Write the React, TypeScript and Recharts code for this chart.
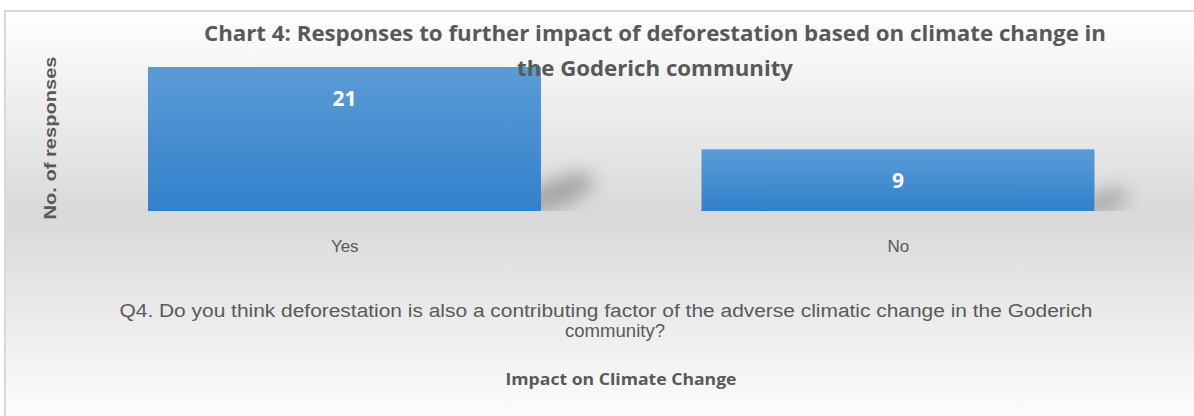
import { BarChart, Bar, XAxis, YAxis, LabelList } from "recharts";

const categories = ["Yes", "No"];
const responses = [21, 9];
const titleLines = [
  "Chart 4:  Responses to further impact of deforestation based on climate change in",
  "the Goderich community",
];
const questionLines = [
  "Q4. Do you think deforestation is also a contributing factor of the adverse climatic change in the  Goderich",
  "community?",
];
const xTitle = "Impact on Climate Change";
const yTitle = "No. of responses";

const data = categories.map((c, i) => ({ name: c, value: responses[i] }));

const GRAY = "#595959";

// bar with a soft cast shadow to its lower right
function ShadowBar(props: any) {
  const { x, y, width, height } = props;
  const bx = x + width;
  const by = y + height;
  const s = Math.min(1, height / 120);
  const id = `clip-${Math.round(x)}`;
  const cx = bx + 12 * s + 4;
  const cy = by - 18 * s;
  return (
    <g>
      <defs>
        <clipPath id={id}>
          <rect x={bx} y={by - 90} width={120} height={90} />
        </clipPath>
      </defs>
      <g clipPath={`url(#${id})`}>
        <ellipse
          cx={cx}
          cy={cy}
          rx={32 * s + 8}
          ry={9 * s + 5}
          transform={`rotate(-22 ${cx} ${cy})`}
          fill="#808080"
          opacity={0.6}
          filter="url(#shadowBlur)"
        />
      </g>
      <rect x={x} y={y} width={width} height={height} fill="url(#barGrad)" />
    </g>
  );
}

function ValueLabel(props: any) {
  const { x, y, width, value } = props;
  return (
    <text
      x={x + width / 2}
      y={y + 31}
      textAnchor="middle"
      dominantBaseline="central"
      fill="#ffffff"
      fontFamily="'Open Sans', sans-serif"
      fontWeight={700}
      fontSize={21}
    >
      {value}
    </text>
  );
}

function CatTick(props: any) {
  const { x, y, payload } = props;
  return (
    <text
      x={x}
      y={y + 27}
      textAnchor="middle"
      dominantBaseline="central"
      fill={GRAY}
      fontFamily="'Liberation Sans', Arial, sans-serif"
      fontSize={17}
    >
      {payload.value}
    </text>
  );
}

export default function App() {
  return (
    <div style={{ position: "absolute", left: 0, top: 0, width: 1194, height: 416, overflow: "hidden", background: "#fff" }}>
      <div
        style={{
          position: "absolute",
          left: 4,
          top: 10,
          width: 1200,
          height: 420,
          border: "2px solid #d9d9d9",
          background: "linear-gradient(to bottom, #ffffff 0%, #d9d9d9 48%, #ffffff 100%)",
        }}
      />
      <div style={{ position: "absolute", left: 0, top: 0 }}>
        <BarChart width={1194} height={416} data={data} margin={{ top: 67, right: 19, bottom: 175, left: 68 }}>
          <defs>
            <linearGradient id="barGrad" x1="0" y1="0" x2="0" y2="1">
              <stop offset="0%" stopColor="#5b9bd6" />
              <stop offset="100%" stopColor="#3281cb" />
            </linearGradient>
            <filter id="shadowBlur" x="-100%" y="-100%" width="300%" height="300%">
              <feGaussianBlur stdDeviation="9" />
            </filter>
          </defs>
          <XAxis dataKey="name" height={30} axisLine={false} tickLine={false} tick={<CatTick />} interval={0} />
          <YAxis hide domain={[0, 21]} />
          <Bar dataKey="value" barSize={393} shape={<ShadowBar />} isAnimationActive={false}>
            <LabelList dataKey="value" content={<ValueLabel />} />
          </Bar>
        </BarChart>
      </div>
      <svg width={1194} height={416} style={{ position: "absolute", left: 0, top: 0, pointerEvents: "none" }}>
        <g fontFamily="'Open Sans', sans-serif" fontWeight={700} fill={GRAY}>
          <text x={655} y={33} textAnchor="middle" dominantBaseline="central" fontSize={21} textLength={902} lengthAdjust="spacingAndGlyphs">
            {titleLines[0]}
          </text>
          <text x={655} y={68} textAnchor="middle" dominantBaseline="central" fontSize={21} textLength={276} lengthAdjust="spacingAndGlyphs">
            {titleLines[1]}
          </text>
          <text x={621} y={379} textAnchor="middle" dominantBaseline="central" fontSize={16} textLength={231} lengthAdjust="spacingAndGlyphs">
            {xTitle}
          </text>
        </g>
        <text
          transform="translate(50,138) rotate(-90)"
          textAnchor="middle"
          dominantBaseline="central"
          fontFamily="'Liberation Sans', Arial, sans-serif"
          fontWeight={700}
          fontSize={17}
          fill={GRAY}
          textLength={163}
          lengthAdjust="spacingAndGlyphs"
        >
          {yTitle}
        </text>
        <g fontFamily="'Liberation Sans', Arial, sans-serif" fontSize={18} fill={GRAY}>
          <text x={606} y={311} textAnchor="middle" dominantBaseline="central" textLength={973} lengthAdjust="spacingAndGlyphs">
            {questionLines[0]}
          </text>
          <text x={615} y={331} textAnchor="middle" dominantBaseline="central" textLength={100} lengthAdjust="spacingAndGlyphs">
            {questionLines[1]}
          </text>
        </g>
      </svg>
    </div>
  );
}
